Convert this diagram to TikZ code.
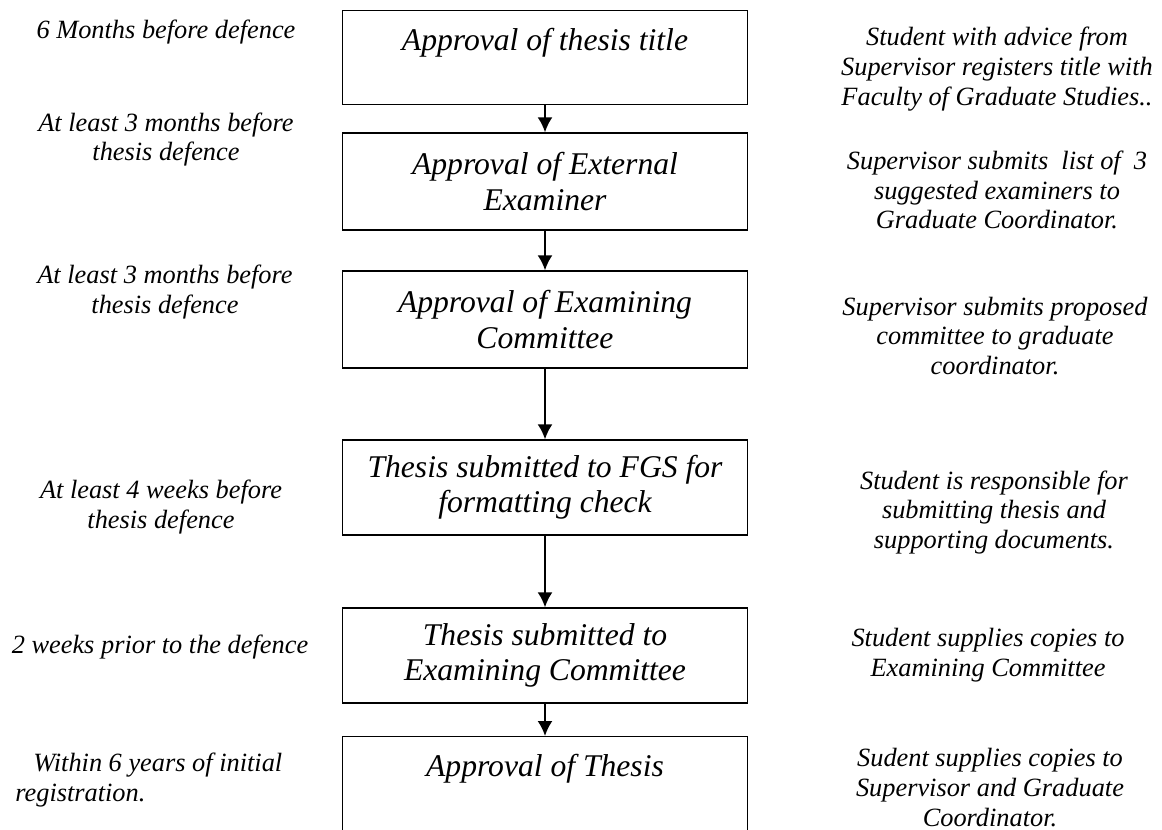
\documentclass[tikz,border=0pt]{standalone}
\usepackage{fontspec}
\setmainfont{Liberation Serif}
\usetikzlibrary{positioning}
\usetikzlibrary{arrows.meta}
\tikzset{
  stage/.style={draw, line width=0.8pt, minimum width=8.1cm, align=center, inner sep=0pt,
    font=\fontsize{18}{20}\selectfont\itshape},
  topstage/.style={stage, anchor=north, text height=0.8cm, text depth=1.08cm},
  when/.style={align=center, inner sep=0pt, font=\fontsize{15}{17}\selectfont\itshape},
  who/.style={when},
  flow/.style={line width=1.1pt, -{Latex[length=3mm,width=3mm]}},
}

\begin{document}
\begin{tikzpicture}[x=0.02cm, y=-0.02cm]
\useasboundingbox (0,0) rectangle (1162,830);
\clip (0,0) rectangle (1162,830);
% stages
\node[topstage] (title) at (545,10) {Approval of thesis title};
\node[stage, minimum height=1.94cm] (external) at (545,181.5) {Approval of External\\Examiner};
\node[stage, minimum height=1.94cm] (committee) at (545,319.5) {Approval of Examining\\Committee};
\node[stage, minimum height=1.9cm] (fgs) at (545,487.5) {Thesis submitted to FGS for\\formatting check};
\node[stage, minimum height=1.9cm] (copies) at (545,655.5) {Thesis submitted to\\Examining Committee};
\node[topstage, text depth=2.2cm] (approval) at (545,736) {Approval of Thesis};
% arrows
\draw[flow] (title) -- (external);
\draw[flow] (external) -- (committee);
\draw[flow] (committee) -- (fgs);
\draw[flow] (fgs) -- (copies);
\draw[flow] (copies) -- (approval);
% deadlines
\node[when] (t-title) at (166,32) {6 Months before defence};
\node[when] (t-external) at (166,139.5) {At least 3 months before\\thesis defence};
\node[when] (t-committee) at (165,292) {At least 3 months before\\thesis defence};
\node[when] (t-fgs) at (161,507) {At least 4 weeks before\\thesis defence};
\node[when] (t-copies) at (160,647) {2 weeks prior to the defence};
\node[when, align=left, anchor=west] (t-approval) at (15,780) {\hspace{0.36cm}Within 6 years of initial\\registration.};
% responsibilities
\node[who] (w-title) at (997,69) {Student with advice from\\Supervisor registers title with\\Faculty of Graduate Studies..};
\node[who] (w-external) at (997,190) {Supervisor submits\ \ list of\ \ 3\\suggested examiners to\\Graduate Coordinator.};
\node[who] (w-committee) at (995,336) {Supervisor submits proposed\\committee to graduate\\coordinator.};
\node[who] (w-fgs) at (994,512.5) {Student is responsible for\\submitting thesis and\\supporting documents.};
\node[who] (w-copies) at (988,655) {Student supplies copies to\\Examining Committee};
\node[who] (w-approval) at (990,787.5) {Sudent supplies copies to\\Supervisor and Graduate\\Coordinator.};
\end{tikzpicture}
\end{document}
